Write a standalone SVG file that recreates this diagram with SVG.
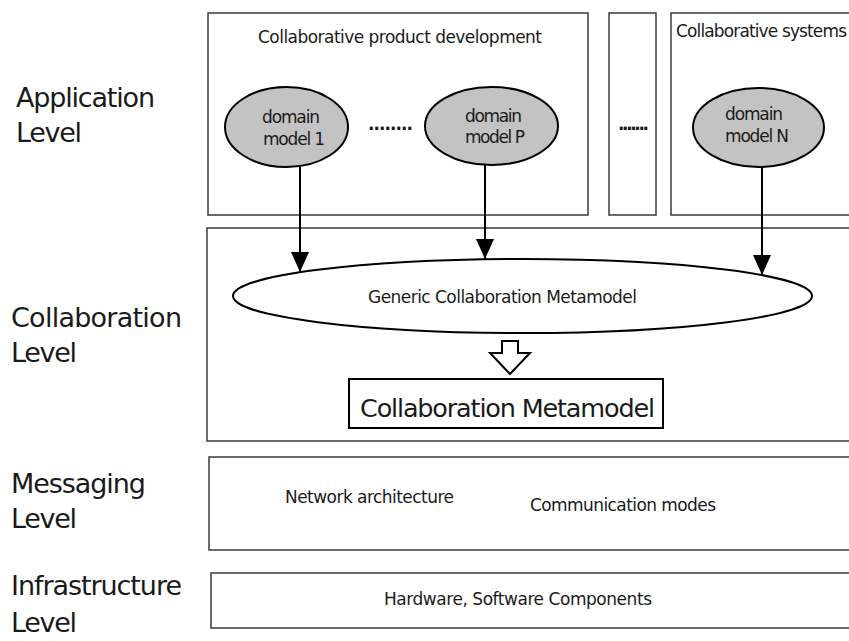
<svg xmlns="http://www.w3.org/2000/svg" width="849" height="641" viewBox="0 0 849 641">
<defs>
<marker id="ah" markerUnits="userSpaceOnUse" markerWidth="20" markerHeight="18" refX="20" refY="9" orient="auto">
<path d="M0,0 L20,9 L0,18 z" fill="#000"/>
</marker>
<style>
text{font-family:"DejaVu Sans","Noto Sans",sans-serif;fill:#1a1a1a}
.lvl{font-size:27px}
.t16{font-size:17px}
.box{fill:#fff;stroke:#3a3a3a;stroke-width:1.5}
.dm{fill:#c3c3c3;stroke:#000;stroke-width:2}
.conn{stroke:#000;stroke-width:2;fill:none}
</style>
</defs>
<rect width="849" height="641" fill="#fff"/>
<g id="labels">
<text class="lvl" x="16" y="107" textLength="139">Application</text>
<text class="lvl" x="16" y="142" textLength="66">Level</text>
<text class="lvl" x="11" y="327" textLength="171">Collaboration</text>
<text class="lvl" x="11" y="362" textLength="66">Level</text>
<text class="lvl" x="11" y="493" textLength="135">Messaging</text>
<text class="lvl" x="11" y="528" textLength="66">Level</text>
<text class="lvl" x="11" y="595" textLength="171">Infrastructure</text>
<text class="lvl" x="11" y="632" textLength="66">Level</text>
</g>
<g id="app-cpd">
<rect class="box" x="208" y="13" width="380" height="202"/>
<text class="t16" x="258" y="43" textLength="284">Collaborative product development</text>
<text class="t16" x="368" y="130" textLength="45" font-weight="bold">........</text>
</g>
<g id="app-dots">
<rect class="box" x="609" y="13" width="47" height="202"/>
<text class="t16" x="618" y="130" textLength="31" font-weight="bold">.......</text>
</g>
<g id="app-cs">
<rect class="box" x="671" y="13" width="200" height="202"/>
<text class="t16" x="676" y="37" textLength="171">Collaborative systems</text>
</g>
<g id="collab-level">
<rect class="box" x="207" y="228" width="660" height="213"/>
</g>
<g id="dm1">
<ellipse class="dm" cx="286.5" cy="127" rx="61.5" ry="40"/>
<text class="t16" x="262" y="123" textLength="58">domain</text>
<text class="t16" x="263" y="145" textLength="62">model 1</text>
</g>
<g id="dmP">
<ellipse class="dm" cx="491.5" cy="126" rx="66.5" ry="39"/>
<text class="t16" x="465" y="122" textLength="57">domain</text>
<text class="t16" x="465" y="143" textLength="60">model P</text>
</g>
<g id="dmN">
<ellipse class="dm" cx="758.5" cy="127.5" rx="65.5" ry="39.5"/>
<text class="t16" x="725" y="120" textLength="58">domain</text>
<text class="t16" x="725" y="142" textLength="64">model N</text>
</g>
<g id="generic">
<ellipse cx="522.5" cy="296" rx="289.5" ry="37" fill="#fff" stroke="#000" stroke-width="2"/>
<text class="t16" x="368" y="303" textLength="269">Generic Collaboration Metamodel</text>
</g>
<g id="cm">
<rect x="349" y="379" width="314" height="49" fill="#fff" stroke="#000" stroke-width="2"/>
<text x="360" y="417" font-size="25.5" textLength="295">Collaboration Metamodel</text>
</g>
<g id="messaging">
<rect class="box" x="209" y="457" width="660" height="93"/>
<text class="t16" x="285" y="503" textLength="169">Network architecture</text>
<text class="t16" x="530" y="511" textLength="186">Communication modes</text>
</g>
<g id="infra">
<rect class="box" x="211" y="573" width="660" height="55"/>
<text class="t16" x="384" y="605" textLength="268">Hardware, Software Components</text>
</g>
<g id="connectors">
<line class="conn" x1="300" y1="167" x2="300" y2="272" marker-end="url(#ah)"/>
<line class="conn" x1="485" y1="165" x2="485" y2="259" marker-end="url(#ah)"/>
<line class="conn" x1="762" y1="167" x2="762" y2="275" marker-end="url(#ah)"/>
<polygon points="502,341 518,341 518,353 530,353 510,374 490,353 502,353" fill="#fff" stroke="#000" stroke-width="2"/>
</g>
</svg>
